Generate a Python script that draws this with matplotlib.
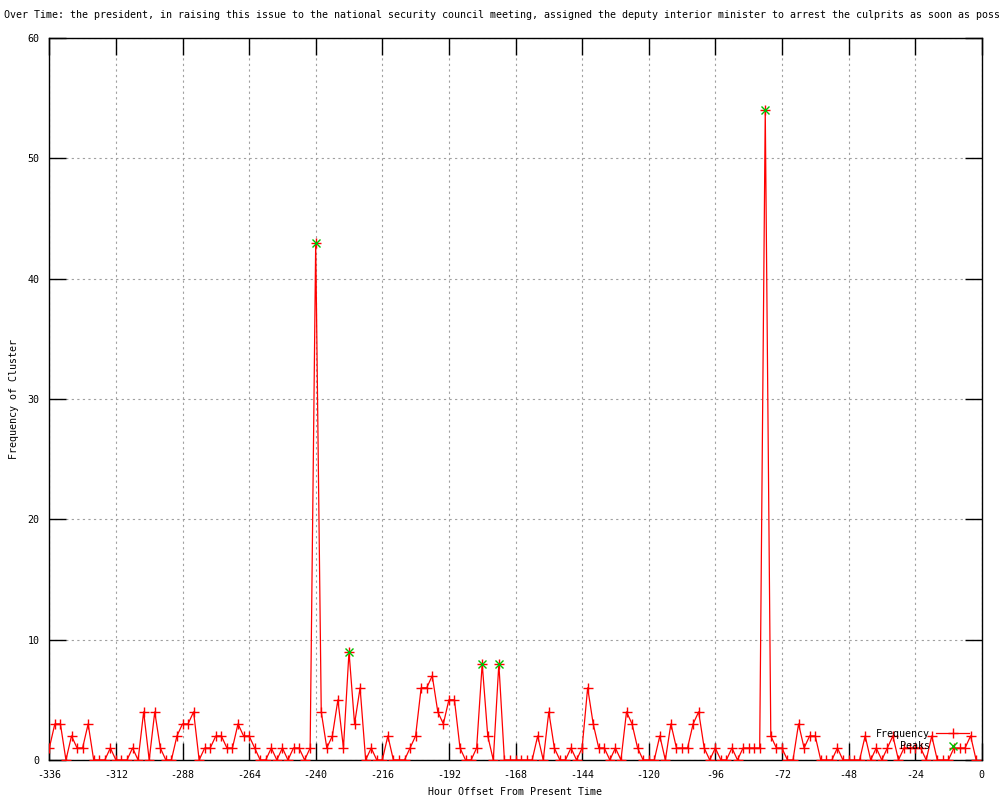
import matplotlib
matplotlib.use("Agg")
import numpy as np
import matplotlib.pyplot as plt
from matplotlib.lines import Line2D

# hour offsets, one sample every 2 hours
hours = np.arange(-336, 0, 2)
frequency = [
    1, 3, 3, 0, 2, 1, 1, 3, 0, 0,
    0, 1, 0, 0, 0, 1, 0, 4, 0, 4,
    1, 0, 0, 2, 3, 3, 4, 0, 1, 1,
    2, 2, 1, 1, 3, 2, 2, 1, 0, 0,
    1, 0, 1, 0, 1, 1, 0, 1, 43, 4,
    1, 2, 5, 1, 9, 3, 6, 0, 1, 0,
    0, 2, 0, 0, 0, 1, 2, 6, 6, 7,
    4, 3, 5, 5, 1, 0, 0, 1, 8, 2,
    0, 8, 0, 0, 0, 0, 0, 0, 2, 0,
    4, 1, 0, 0, 1, 0, 1, 6, 3, 1,
    1, 0, 1, 0, 4, 3, 1, 0, 0, 0,
    2, 0, 3, 1, 1, 1, 3, 4, 1, 0,
    1, 0, 0, 1, 0, 1, 1, 1, 1, 54,
    2, 1, 1, 0, 0, 3, 1, 2, 2, 0,
    0, 0, 1, 0, 0, 0, 0, 2, 0, 1,
    0, 1, 2, 0, 1, 1, 1, 1, 0, 2,
    0, 0, 0, 1, 1, 1, 2, 0,
]
peak_hours = [-240, -228, -180, -174, -78]
peak_values = [43, 9, 8, 8, 54]

x_ticks = list(range(-336, 1, 24))
y_ticks = list(range(0, 61, 10))

title = ("Over Time: the president, in raising this issue to the national security "
         "council meeting, assigned the deputy interior minister to arrest the culprits "
         "as soon as poss")

mono = "DejaVu Sans Mono"
fs = 7.2
red = "#ff0000"
green = "#00c000"

fig = plt.figure(figsize=(10, 8), dpi=100)
ax = fig.add_axes([0.0493, 0.05, 0.9324, 0.9025])

ax.plot(hours, frequency, color=red, lw=0.9, marker="+", ms=7, mew=1.0,
        clip_on=True, zorder=3)
ax.plot(peak_hours, peak_values, color=green, ls="none", marker="x", ms=6,
        mew=1.0, clip_on=True, zorder=4)

ax.set_xlim(-336, 0)
ax.set_ylim(0, 60)
ax.set_xticks(x_ticks)
ax.set_yticks(y_ticks)
ax.set_xticklabels([str(t) for t in x_ticks], fontfamily=mono, fontsize=fs)
ax.set_yticklabels([str(t) for t in y_ticks], fontfamily=mono, fontsize=fs)
ax.tick_params(direction="in", length=12, width=1, top=True, right=True,
               pad=7, colors="black")

ax.grid(True, color="#a0a0a0", lw=0.8, linestyle=(0, (2, 3)))
ax.set_axisbelow(True)
for s in ax.spines.values():
    s.set_color("black")
    s.set_linewidth(1)

ax.set_xlabel("Hour Offset From Present Time", fontfamily=mono, fontsize=fs, labelpad=5)
ax.set_ylabel("Frequency of Cluster", fontfamily=mono, fontsize=fs, labelpad=6)

fig.text(0.004, 0.981, title, fontfamily=mono, fontsize=fs, ha="left", va="center")

handles = [
    Line2D([], [], color=red, lw=0.9, marker="+", ms=7, mew=1.0),
    Line2D([], [], color=green, ls="none", marker="x", ms=6, mew=1.0),
]
ax.legend(handles, ["Frequency", "Peaks"], loc="lower right",
          bbox_to_anchor=(0.992, 0.005), frameon=False, markerfirst=False,
          prop={"family": mono, "size": fs}, handlelength=3.3,
          handletextpad=0.6, labelspacing=0.25, borderpad=0, numpoints=1)

fig.savefig("out.png", dpi=100)
plt.close(fig)
